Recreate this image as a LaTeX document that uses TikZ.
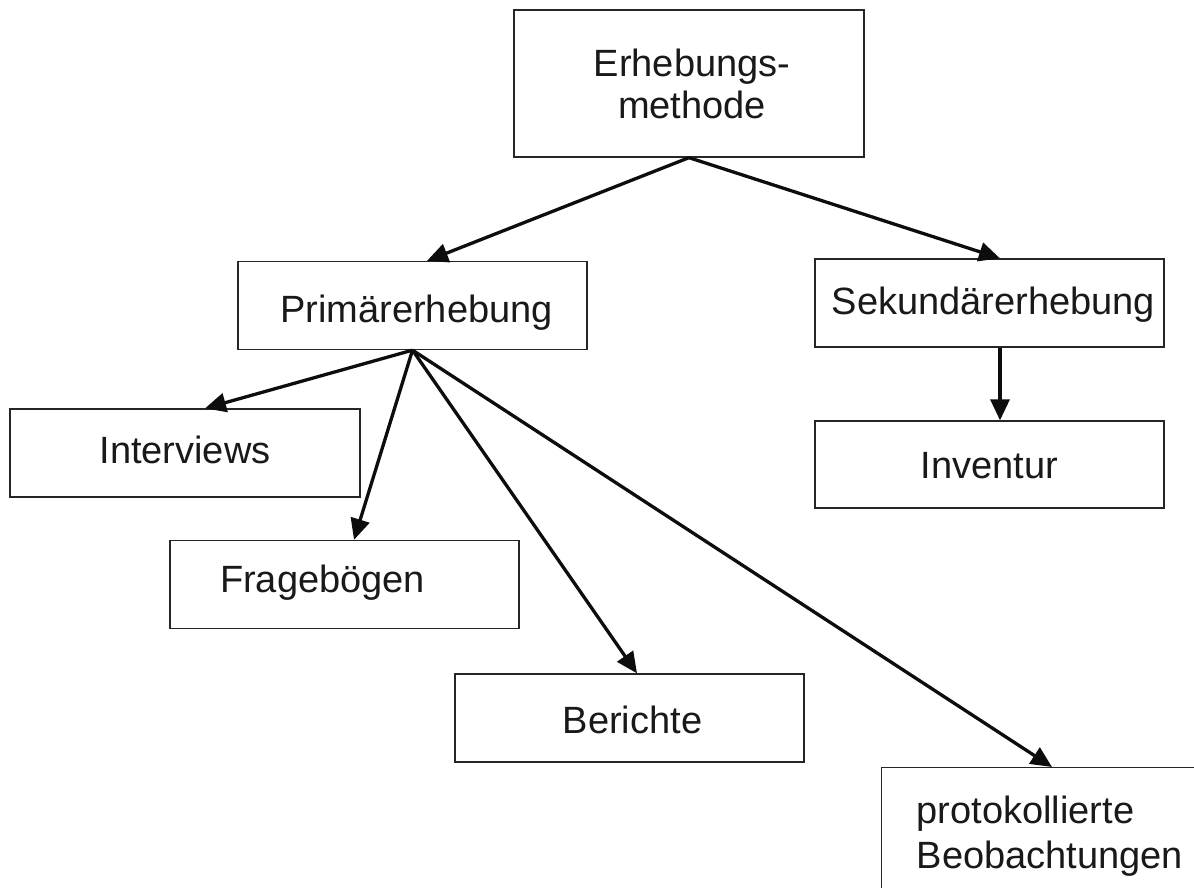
\documentclass[tikz,border=0pt]{standalone}
\usepackage{fontspec}
\setmainfont{Liberation Sans}
\usetikzlibrary{arrows.meta}
\begin{document}
\begin{tikzpicture}[x=1pt,y=-1pt,
  box/.style={draw=black!85, line width=1.3pt, rectangle, inner sep=0pt,
    minimum width=349pt, minimum height=88pt,
    font=\fontsize{38}{42}\selectfont, text=black!90},
  tb/.style={text height=#1, text depth=8pt},
  link/.style={draw=black!95, line width=3.3pt,
    -{Triangle[length=21pt,width=19pt]}}]
\clip (0,0) rectangle (1194,888);
\fill[white] (0,0) rectangle (1194,888);

% boxes
\node[box, minimum width=350pt, minimum height=147pt, align=center] (erh) at (689,83.5) {\hspace*{6pt}Erhebungs-\\\hspace*{6pt}methode};
\node[box, tb=41pt] (prim) at (412.5,305.5) {\hspace*{8pt}Primärerhebung};
\node[box, tb=30pt] (sek) at (989.5,303) {\hspace*{8pt}Sekundärerhebung};
\node[box, tb=28pt, minimum width=350pt] (intv) at (185,453) {Interviews};
\node[box, tb=23pt, text width=249pt, inner xsep=50pt, align=left] (frag) at (344.5,584.5) {Fragebögen};
\node[box, tb=38pt] (ber) at (629.5,718) {\hspace*{6pt}Berichte};
\node[box, tb=35pt, minimum height=87pt] (inv) at (989.5,464.5) {Inventur};
\node[box, anchor=north west, minimum width=370pt, minimum height=137pt,
  text width=300pt, inner xsep=34pt, align=left,
  font=\fontsize{38}{45}\selectfont] (prot) at (881,767) {protokollierte\\Beobachtungen};

% connectors
\draw[link] (erh.south) -- ([xshift=14.5pt]prim.north);
\draw[link] (erh.south) -- ([xshift=10.5pt]sek.north);
\draw[link] (prim.south) -- ([xshift=20pt]intv.north);
\draw[link] (prim.south) -- ([xshift=9.5pt]frag.north);
\draw[link] (prim.south) -- ([xshift=7.5pt]ber.north);
\draw[link] (prim.south) -- ([xshift=171pt]prot.north west);
\draw[link] ([xshift=10.5pt]sek.south) -- ([xshift=10.5pt]inv.north);
\end{tikzpicture}
\end{document}
